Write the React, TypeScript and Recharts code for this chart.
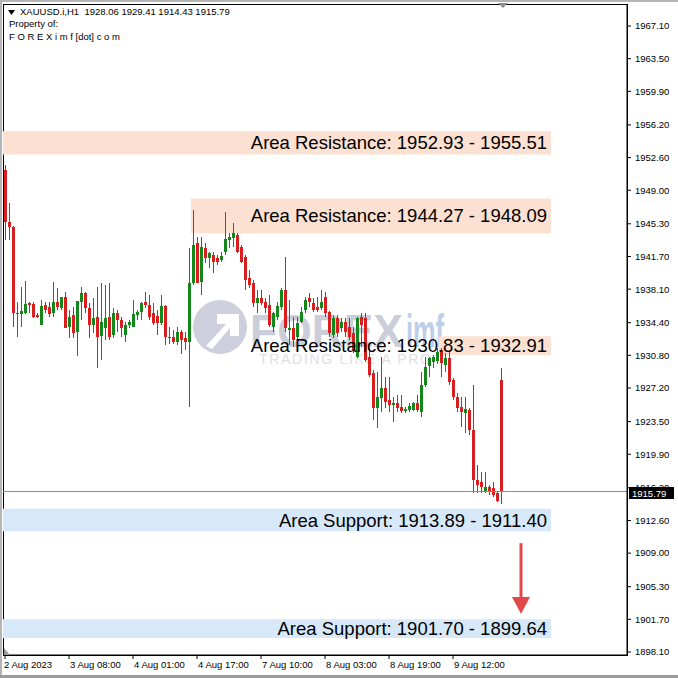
import React from 'react';
import { ComposedChart, Bar, XAxis, YAxis, ReferenceArea, ReferenceLine, ReferenceDot } from 'recharts';

const SYMBOL = 'XAUUSD.i,H1';

const opens = [
  1951.2, 1945.5, 1945.0, 1935.4, 1935.4, 1935.5, 1936.6, 1936.5, 1935.2, 1934.2,
  1936.3, 1936.1, 1935.5, 1936.7, 1936.0, 1937.2, 1933.9, 1935.2, 1933.4, 1936.7,
  1937.7, 1936.0, 1934.1, 1935.0, 1932.9, 1933.8, 1935.0, 1933.0, 1935.5, 1934.7,
  1933.0, 1934.1, 1933.9, 1935.2, 1935.6, 1936.7, 1936.4, 1935.5, 1935.1, 1934.4,
  1936.2, 1932.8, 1932.8, 1932.3, 1933.4, 1932.7, 1932.3, 1938.8, 1943.2, 1938.9,
  1942.6, 1941.5, 1941.9, 1941.5, 1941.3, 1942.2, 1943.5, 1943.7, 1944.1, 1942.7,
  1941.6, 1939.3, 1938.8, 1936.6, 1937.1, 1936.7, 1936.3, 1933.9, 1935.0, 1936.1,
  1938.0, 1933.6, 1933.8, 1932.8, 1934.5, 1935.8, 1937.1, 1936.6, 1936.1, 1936.0,
  1937.2, 1935.6, 1933.0, 1934.9, 1933.8, 1934.5, 1933.9, 1933.3, 1930.6, 1935.0,
  1934.9, 1930.6, 1928.8, 1925.0, 1926.1, 1927.2, 1925.9, 1925.3, 1925.5, 1925.1,
  1924.7, 1924.8, 1924.8, 1925.5, 1924.6, 1927.5, 1929.6, 1930.1, 1930.2, 1931.4,
  1929.7, 1930.5, 1928.1, 1926.2, 1925.1, 1924.4, 1924.8, 1922.6, 1917.1, 1916.8,
  1915.9, 1916.3, 1916.2, 1915.6, 1928.06,
];

const highs = [
  1951.8, 1947.6, 1945.1, 1936.7, 1938.3, 1939.0, 1936.7, 1936.7, 1935.5, 1936.9,
  1936.7, 1936.7, 1938.9, 1938.2, 1937.2, 1937.8, 1935.8, 1936.1, 1936.8, 1938.3,
  1937.8, 1936.6, 1937.1, 1938.3, 1938.8, 1938.6, 1938.8, 1936.0, 1935.8, 1935.0,
  1934.5, 1934.7, 1936.9, 1935.8, 1936.7, 1937.8, 1937.4, 1936.6, 1935.8, 1937.4,
  1936.3, 1933.9, 1933.6, 1933.9, 1933.6, 1933.4, 1942.6, 1946.8, 1943.8, 1943.8,
  1943.2, 1942.2, 1942.2, 1941.9, 1942.2, 1946.6, 1944.3, 1945.4, 1944.3, 1943.0,
  1941.9, 1940.2, 1939.1, 1938.0, 1938.0, 1937.1, 1937.4, 1935.6, 1936.7, 1938.2,
  1941.6, 1936.9, 1935.0, 1935.0, 1936.1, 1937.2, 1937.7, 1937.1, 1937.2, 1938.0,
  1937.8, 1935.7, 1935.2, 1935.2, 1934.9, 1934.9, 1934.9, 1933.9, 1935.0, 1935.5,
  1935.5, 1931.6, 1929.2, 1929.0, 1930.6, 1928.4, 1928.4, 1926.2, 1926.4, 1926.4,
  1925.1, 1925.5, 1925.7, 1926.4, 1929.0, 1930.6, 1930.6, 1930.8, 1931.6, 1931.6,
  1931.1, 1931.4, 1928.3, 1926.6, 1926.2, 1926.2, 1925.0, 1927.5, 1918.7, 1917.9,
  1917.9, 1916.5, 1916.8, 1915.9, 1929.41,
];

const lows = [
  1943.5, 1943.5, 1933.9, 1932.8, 1933.9, 1935.4, 1935.5, 1934.9, 1934.9, 1934.1,
  1935.5, 1935.0, 1935.0, 1935.8, 1935.8, 1933.8, 1932.7, 1932.7, 1930.7, 1934.7,
  1935.5, 1932.7, 1933.3, 1929.4, 1930.3, 1932.5, 1932.5, 1932.7, 1933.4, 1932.8,
  1932.3, 1933.8, 1933.9, 1934.7, 1934.7, 1936.0, 1934.7, 1934.1, 1933.0, 1934.1,
  1931.9, 1932.1, 1932.1, 1931.9, 1931.0, 1931.4, 1925.1, 1938.6, 1938.8, 1937.4,
  1941.0, 1940.4, 1939.9, 1940.8, 1941.1, 1941.9, 1942.6, 1942.7, 1942.1, 1941.0,
  1938.0, 1938.2, 1936.1, 1935.5, 1936.3, 1935.5, 1933.9, 1933.4, 1934.7, 1935.8,
  1933.4, 1931.9, 1931.7, 1932.5, 1934.4, 1935.5, 1936.1, 1935.6, 1935.6, 1935.8,
  1935.0, 1932.8, 1932.7, 1932.8, 1933.4, 1932.8, 1932.5, 1931.1, 1930.5, 1931.7,
  1930.1, 1928.4, 1923.7, 1922.8, 1924.6, 1925.0, 1924.6, 1923.4, 1924.6, 1924.4,
  1924.4, 1924.6, 1924.7, 1924.6, 1924.0, 1927.3, 1928.4, 1929.4, 1929.8, 1928.4,
  1929.0, 1927.5, 1925.9, 1924.6, 1922.9, 1922.2, 1922.0, 1915.6, 1915.6, 1915.6,
  1915.6, 1915.4, 1915.2, 1914.6, 1914.43,
];

const closes = [
  1945.5, 1944.9, 1935.5, 1935.5, 1935.7, 1936.5, 1936.3, 1935.0, 1935.0, 1936.2,
  1935.8, 1935.4, 1936.7, 1936.1, 1937.2, 1933.8, 1935.0, 1933.3, 1936.8, 1937.7,
  1936.0, 1934.1, 1934.9, 1932.8, 1934.5, 1934.9, 1932.8, 1935.5, 1934.7, 1933.8,
  1934.1, 1934.5, 1935.4, 1935.6, 1936.6, 1936.3, 1935.0, 1934.4, 1934.4, 1936.2,
  1932.8, 1932.7, 1932.3, 1933.4, 1932.5, 1932.3, 1938.8, 1943.0, 1938.8, 1942.7,
  1941.5, 1942.1, 1941.1, 1941.1, 1941.8, 1943.6, 1943.8, 1944.3, 1942.2, 1941.1,
  1939.1, 1938.6, 1936.6, 1937.1, 1936.6, 1936.0, 1934.1, 1935.5, 1936.2, 1938.0,
  1933.8, 1933.8, 1932.5, 1934.4, 1935.6, 1936.9, 1936.7, 1935.8, 1935.8, 1936.7,
  1935.5, 1933.3, 1934.9, 1933.3, 1934.5, 1933.4, 1932.8, 1931.4, 1934.9, 1934.1,
  1930.3, 1928.6, 1925.0, 1926.2, 1927.2, 1925.7, 1925.3, 1925.5, 1925.0, 1924.7,
  1924.9, 1925.2, 1925.5, 1924.8, 1927.5, 1929.5, 1930.5, 1930.6, 1931.2, 1930.0,
  1930.5, 1927.9, 1926.2, 1925.0, 1924.6, 1924.9, 1922.6, 1917.1, 1916.5, 1916.3,
  1916.3, 1915.8, 1915.4, 1914.8, 1915.79,
];

// chart holds 156 hourly slots; the last ones are empty (future space)
const SLOT_COUNT = 156;

const xTickBars = [0, 16, 32, 48, 64, 80, 96, 112];
const xTickLabels = [
  '2 Aug 2023', '3 Aug 08:00', '4 Aug 01:00', '4 Aug 17:00',
  '7 Aug 10:00', '8 Aug 03:00', '8 Aug 19:00', '9 Aug 12:00',
];

const yTicks = [
  1967.1, 1963.5, 1959.9, 1956.2, 1952.6, 1949.0, 1945.3, 1941.7, 1938.1, 1934.4,
  1930.8, 1927.2, 1923.5, 1919.9, 1916.2, 1912.6, 1909.0, 1905.3, 1901.7, 1898.1,
];
const Y_MIN = 1897.77;
const Y_MAX = 1969.53;

const zoneKind = ['Area Resistance', 'Area Resistance', 'Area Resistance', 'Area Support', 'Area Support'];
const zoneFirst = [1952.93, 1944.27, 1930.83, 1913.89, 1901.7];
const zoneSecond = [1955.51, 1948.09, 1932.91, 1911.4, 1899.64];
const zoneStartBar = [0, 47, 109, 0, 0];
const zoneEndBar = 136;

const arrowBar = 129;
const arrowFrom = 1910.1;
const arrowShaftEnd = 1903.9;
const arrowTip = 1902.3;

const FONT = '"Liberation Sans", Arial, sans-serif';
const RED = '#d81e1e';
const GREEN = '#14871a';
const RES_FILL = '#fce1d2';
const SUP_FILL = '#d7e8f9';
const ARROW = '#e0494b';

const rows = Array.from({ length: SLOT_COUNT }, (_, i) =>
  i < opens.length
    ? { i, range: [lows[i], highs[i]], o: opens[i], h: highs[i], l: lows[i], c: closes[i] }
    : { i, range: null }
);

const last = opens.length - 1;

function Candle(props: any) {
  const { x, y, width, height, payload } = props;
  if (!payload || payload.o == null) return null;
  const { o, h, l, c } = payload;
  const top = Math.min(y, y + height);
  const bottom = Math.max(y, y + height);
  const k = h > l ? (bottom - top) / (h - l) : 0;
  const yOpen = top + (h - o) * k;
  const yClose = top + (h - c) * k;
  const color = c >= o ? GREEN : RED;
  const start = Math.round(x + width / 2 - 2);
  const wickTop = Math.round(top);
  const wickBottom = Math.max(Math.round(bottom), wickTop + 1);
  const bodyTop = Math.round(Math.min(yOpen, yClose));
  const bodyBottom = Math.max(Math.round(Math.max(yOpen, yClose)), bodyTop + 1);
  return (
    <g shapeRendering="crispEdges">
      <rect x={start + 2} y={wickTop} width={1} height={wickBottom - wickTop} fill={color} />
      <rect x={start + 1} y={bodyTop} width={3} height={bodyBottom - bodyTop} fill={color} />
    </g>
  );
}

function XTickLabel(props: any) {
  const { x, y, payload } = props;
  const k = xTickBars.indexOf(Number(payload.value));
  if (k < 0) return null;
  return (
    <text x={k === 0 ? x - 1 : x + 1} y={y + 7} fontSize={9.5} fontFamily={FONT} fill="#000" textAnchor="start">
      {xTickLabels[k]}
    </text>
  );
}

function PriceTag(props: any) {
  const { viewBox, value } = props;
  if (!viewBox) return null;
  const right = viewBox.x + Math.max(0, viewBox.width || 0);
  const cy = viewBox.y;
  return (
    <g shapeRendering="crispEdges">
      <rect x={right + 2} y={Math.round(cy) - 5} width={45} height={12} fill="#000" />
      <text x={right + 5} y={Math.round(cy) + 4.5} fontSize={9.5} fontFamily={FONT} fill="#fff">
        {value}
      </text>
    </g>
  );
}

function ArrowHead(props: any) {
  const { cx, cy } = props;
  if (cx == null || cy == null) return null;
  return <polygon points={`${cx - 9},${cy - 17} ${cx + 9},${cy - 17} ${cx},${cy}`} fill={ARROW} />;
}

function Background() {
  return (
    <svg width={678} height={678} style={{ position: 'absolute', left: 0, top: 0 }}>
      <rect x={0} y={0} width={678} height={678} fill="#fff" />
      {/* watermark */}
      <g>
        <circle cx={220} cy={327} r={27} fill="#cdd0dc" />
        <path d="M206 346 L226 324 L217 324 L217 314 L239 314 L239 336 L230 336 L230 328 L212 349 Z" fill="#fff" />
        <text x={250} y={347} fontSize={47} fontWeight="bold" fontFamily={FONT} fill="#cbced9" textLength={153} lengthAdjust="spacingAndGlyphs">FOREX</text>
        <text x={406} y={347} fontSize={47} fontWeight="bold" fontFamily={FONT} fill="#bcd0ea" textLength={38} lengthAdjust="spacingAndGlyphs">imf</text>
        <text x={259} y={364} fontSize={14} fontFamily={FONT} fill="#dfe0e7" textLength={172} lengthAdjust="spacing">TRADING LIKE A PRO</text>
      </g>
      {/* plot frame */}
      <rect x={3.5} y={4.5} width={624} height={651} fill="none" stroke="#000" strokeWidth={1} shapeRendering="crispEdges" />
    </svg>
  );
}

function Overlay() {
  const head = `${SYMBOL}  ${opens[last].toFixed(2)} ${highs[last].toFixed(2)} ${lows[last].toFixed(2)} ${closes[last].toFixed(2)}`;
  return (
    <svg width={678} height={678} style={{ position: 'absolute', left: 0, top: 0, pointerEvents: 'none' }}>
      <rect x={0} y={0} width={678} height={2} fill="#b5b5b5" />
      <rect x={0} y={0} width={2} height={678} fill="#b5b5b5" />
      <rect x={0} y={675} width={678} height={3} fill="#9c9c9c" />
      <polygon points="8,10 15,10 11.5,15" fill="#000" />
      <text x={20} y={15} fontSize={9.5} fontFamily={FONT} fill="#000" style={{ whiteSpace: 'pre' }}>{head}</text>
      <text x={9} y={27} fontSize={9.5} fontFamily={FONT} fill="#000">Property of:</text>
      <text x={9} y={40} fontSize={9.5} fontFamily={FONT} fill="#000">F O R E X i m f [dot] c o m</text>
      <polygon points="498,3 508,3 503,8" fill="#8a8f96" />
      <polygon points="4,648 4,655 10,655" fill="#9a9a9a" />
    </svg>
  );
}

export default function App() {
  return (
    <div style={{ position: 'absolute', left: 0, top: 0, width: 678, height: 678, overflow: 'hidden', background: '#fff' }}>
      <Background />
      <div style={{ position: 'absolute', left: 0, top: 0 }}>
        <ComposedChart
          width={678}
          height={678}
          data={rows}
          margin={{ top: 4, right: 0, bottom: 0, left: 3 }}
          barCategoryGap={0}
          barGap={0}
        >
          <XAxis
            dataKey="i"
            type="category"
            ticks={xTickBars}
            interval={0}
            height={23}
            tickSize={4}
            tickLine={{ stroke: '#000' }}
            axisLine={{ stroke: '#000' }}
            tick={<XTickLabel />}
          />
          <YAxis
            orientation="right"
            type="number"
            domain={[Y_MIN, Y_MAX]}
            allowDataOverflow
            ticks={yTicks}
            interval={0}
            width={51}
            tickSize={4}
            tickMargin={4}
            tickLine={{ stroke: '#000' }}
            axisLine={{ stroke: '#000' }}
            tick={{ fontSize: 9.5, fontFamily: FONT, fill: '#000' }}
            tickFormatter={(v: number) => Number(v).toFixed(2)}
          />
          {zoneFirst.map((v, k) => (
            <ReferenceArea
              key={'zone' + k}
              x1={zoneStartBar[k]}
              x2={zoneEndBar}
              y1={Math.min(v, zoneSecond[k])}
              y2={Math.max(v, zoneSecond[k])}
              fill={zoneKind[k] === 'Area Support' ? SUP_FILL : RES_FILL}
              fillOpacity={1}
              stroke="none"
              ifOverflow="visible"
              zIndex={-10}
            />
          ))}
          <Bar dataKey="range" shape={<Candle />} isAnimationActive={false} />
          <ReferenceLine
            y={closes[last]}
            stroke="#8c8c8c"
            strokeWidth={1}
            ifOverflow="visible"
            label={<PriceTag value={closes[last].toFixed(2)} />}
          />
          {zoneFirst.map((v, k) => (
            <ReferenceArea
              key={'label' + k}
              x1={zoneStartBar[k]}
              x2={zoneEndBar}
              y1={Math.min(v, zoneSecond[k])}
              y2={Math.max(v, zoneSecond[k])}
              fill="none"
              fillOpacity={0}
              stroke="none"
              ifOverflow="visible"
              label={{
                value: `${zoneKind[k]}: ${v.toFixed(2)} - ${zoneSecond[k].toFixed(2)}`,
                position: 'insideRight',
                offset: 4,
                fontSize: 18.5,
                fontFamily: FONT,
                fill: '#000',
              }}
            />
          ))}
          <ReferenceLine
            segment={[{ x: arrowBar, y: arrowFrom }, { x: arrowBar, y: arrowShaftEnd }]}
            stroke={ARROW}
            strokeWidth={3}
            ifOverflow="visible"
          />
          <ReferenceDot x={arrowBar} y={arrowTip} ifOverflow="visible" shape={<ArrowHead />} />
        </ComposedChart>
      </div>
      <Overlay />
    </div>
  );
}
